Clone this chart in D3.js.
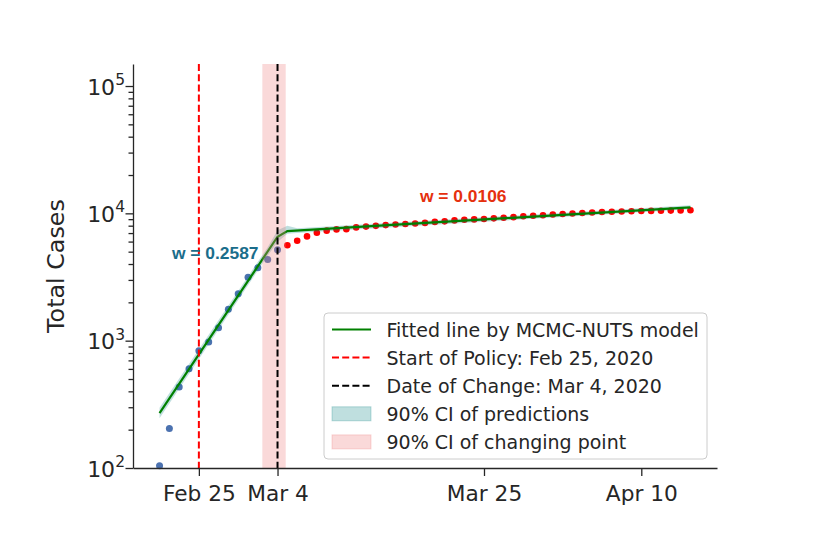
<!DOCTYPE html>
<html>
<head>
<meta charset="utf-8">
<script src="https://cdn.jsdelivr.net/npm/d3@7"></script>
<style>
  body { margin: 0; background: #fff; }
</style>
</head>
<body>
<script>
// observed cases (plotted dates), before and after the change point
var firstDay = new Date(Date.UTC(2020, 1, 21));
var changeDay = new Date(Date.UTC(2020, 2, 5));
var lastDay = new Date(Date.UTC(2020, 3, 16)); // exclusive
var casesBefore = [104, 204, 433, 602, 833, 977, 1261, 1766, 2337, 3150, 3736, 4335, 5186];
var casesAfter = [5621, 6088, 6593, 7041, 7314, 7478, 7513, 7755, 7869, 7979, 8086, 8162,
                  8236, 8320, 8413, 8565, 8652, 8799, 8897, 8961, 9037, 9137, 9241, 9332,
                  9478, 9583, 9661, 9786, 9887, 9976, 10062, 10156, 10237, 10284, 10331,
                  10384, 10423, 10450, 10480, 10512, 10537, 10564];

// fitted line knots and its 90% band
var fitDates = ["2020-02-21", "2020-03-04", "2020-03-05", "2020-04-15"];
var fitValues = [270, 6550, 7260, 11150];
var ciDates = ["2020-02-21", "2020-03-03", "2020-03-04", "2020-03-05", "2020-03-06", "2020-04-15"];
var ciLow = [246, 4650, 5950, 6900, 7000, 10750];
var ciHigh = [297, 5420, 7350, 7980, 7650, 11550];

// change point interval and reference dates
var cpInterval = ["2020-03-02T11:00Z", "2020-03-04T20:00Z"];
var policyDate = "2020-02-25";
var changeDate = "2020-03-04";

var xTickDates = ["2020-02-25", "2020-03-04", "2020-03-25", "2020-04-10"];
var xTickLabels = ["Feb 25", "Mar 4", "Mar 25", "Apr 10"];
var yMajor = [100, 1000, 10000, 100000];
var yExp = ["2", "3", "4", "5"];

var legendLabels = ["Fitted line by MCMC-NUTS model", "Start of Policy: Feb 25, 2020",
                    "Date of Change: Mar 4, 2020", "90% CI of predictions", "90% CI of changing point"];

var width = 830, height = 537;
var margin = {left: 133, right: 717, top: 64, bottom: 468};
var ink = "#262626";
var pad = 2.7 * 864e5;

function day(s) { return new Date(s.length == 10 ? s + "T00:00Z" : s); }

var daysBefore = d3.utcDay.range(firstDay, changeDay);
var daysAfter = d3.utcDay.range(changeDay, lastDay);

var svg = d3.select("body").append("svg")
    .attr("width", width)
    .attr("height", height)
    .style("font-family", "DejaVu Sans");

var x = d3.scaleUtc()
    .domain([new Date(+firstDay - pad), new Date(+d3.utcDay.offset(lastDay, -1) + pad)])
    .range([margin.left, margin.right]);
var y = d3.scaleLog()
    .domain([100, 148900])
    .range([margin.bottom, margin.top]);

var plot = svg.append("g");

// points
plot.selectAll(".before").data(casesBefore).enter().append("circle")
    .attr("cx", (d, i) => x(daysBefore[i]))
    .attr("cy", d => y(d))
    .attr("r", 3.5)
    .attr("fill", "#4c72b0");
plot.selectAll(".after").data(casesAfter).enter().append("circle")
    .attr("cx", (d, i) => x(daysAfter[i]))
    .attr("cy", d => y(d))
    .attr("r", 3.3)
    .attr("fill", "#ff0000");

// prediction band
var band = d3.area()
    .x((d, i) => x(day(ciDates[i])))
    .y0((d, i) => y(ciLow[i]))
    .y1((d, i) => y(ciHigh[i]));
plot.append("path")
    .attr("d", band(ciDates))
    .attr("fill", "teal")
    .attr("fill-opacity", 0.25);

// fitted line
var line = d3.line()
    .x((d, i) => x(day(fitDates[i])))
    .y((d, i) => y(fitValues[i]));
plot.append("path")
    .attr("d", line(fitDates))
    .attr("fill", "none")
    .attr("stroke", "green")
    .attr("stroke-width", 2.2);

// change point interval
plot.append("rect")
    .attr("x", x(day(cpInterval[0])))
    .attr("width", x(day(cpInterval[1])) - x(day(cpInterval[0])))
    .attr("y", margin.top)
    .attr("height", margin.bottom - margin.top)
    .attr("fill", "lightcoral")
    .attr("fill-opacity", 0.3);

// vertical reference lines
plot.append("line")
    .attr("x1", x(day(policyDate))).attr("x2", x(day(policyDate)))
    .attr("y1", margin.top).attr("y2", margin.bottom)
    .attr("stroke", "red").attr("stroke-width", 2)
    .attr("stroke-dasharray", "7,3.2");
plot.append("line")
    .attr("x1", x(day(changeDate))).attr("x2", x(day(changeDate)))
    .attr("y1", margin.top).attr("y2", margin.bottom)
    .attr("stroke", "black").attr("stroke-width", 2)
    .attr("stroke-dasharray", "7,3.2");

// growth rate labels
svg.append("text")
    .attr("x", 172).attr("y", 259)
    .attr("font-family", "Liberation Sans").attr("font-weight", "bold")
    .attr("font-size", "17.4px").attr("fill", "#1a6d8b")
    .text("w = 0.2587");
svg.append("text")
    .attr("x", 420).attr("y", 202)
    .attr("font-family", "Liberation Sans").attr("font-weight", "bold")
    .attr("font-size", "17.4px").attr("fill", "#e5300e")
    .text("w = 0.0106");

// axes
svg.append("g")
    .attr("transform", "translate(" + margin.left + ",0)")
    .call(d3.axisLeft(y).tickValues(yMajor).tickFormat("").tickSize(7.5).tickSizeOuter(0));
var minor = [];
yMajor.slice(0, 3).forEach(m => { for (var k = 2; k < 10; k++) minor.push(m * k); });
svg.append("g")
    .attr("transform", "translate(" + margin.left + ",0)")
    .call(d3.axisLeft(y).tickValues(minor).tickFormat("").tickSize(4.5))
    .select(".domain").remove();

var xAxis = svg.append("g")
    .attr("transform", "translate(0," + margin.bottom + ")")
    .call(d3.axisBottom(x).tickValues(xTickDates.map(day))
        .tickFormat((d, i) => xTickLabels[i]).tickSize(8).tickSizeOuter(0));
xAxis.selectAll("text")
    .attr("font-family", "DejaVu Sans").attr("font-size", "21.7px")
    .attr("fill", ink).attr("dy", null).attr("y", 33);

svg.selectAll(".domain, .tick line").attr("stroke", ink).attr("stroke-width", 1.3);

// y labels with superscripts
yMajor.forEach((v, i) => {
  var t = svg.append("text")
      .attr("x", 125).attr("y", y(v) + 8.5)
      .attr("text-anchor", "end")
      .attr("fill", ink)
      .attr("font-size", "22px");
  t.append("tspan").text("10");
  t.append("tspan").attr("dy", -9.5).attr("font-size", "15.5px").text(yExp[i]);
});

svg.append("text")
    .attr("transform", "translate(64," + ((margin.top + margin.bottom) / 2) + ") rotate(-90)")
    .attr("text-anchor", "middle")
    .attr("fill", ink)
    .attr("font-size", "23.8px")
    .text("Total Cases");

// legend
var lg = svg.append("g").attr("transform", "translate(324,313)");
lg.append("rect")
    .attr("width", 383).attr("height", 146)
    .attr("rx", 4)
    .attr("fill", "white").attr("fill-opacity", 0.8)
    .attr("stroke", "#cccccc").attr("stroke-width", 1);
legendLabels.forEach((label, i) => {
  var cy = 16.5 + i * 28.1;
  if (i < 3) {
    lg.append("line")
      .attr("x1", 8).attr("x2", 47).attr("y1", cy).attr("y2", cy)
      .attr("stroke", ["green", "red", "black"][i])
      .attr("stroke-width", 2)
      .attr("stroke-dasharray", i == 0 ? null : "7,3.2");
  } else {
    lg.append("rect")
      .attr("x", 8).attr("width", 39).attr("y", cy - 7).attr("height", 14)
      .attr("fill", i == 3 ? "teal" : "lightcoral")
      .attr("fill-opacity", i == 3 ? 0.25 : 0.3)
      .attr("stroke", i == 3 ? "teal" : "lightcoral")
      .attr("stroke-opacity", i == 3 ? 0.25 : 0.3);
  }
  lg.append("text")
    .attr("x", 62.5).attr("y", cy + 7)
    .attr("fill", ink)
    .attr("font-size", "19px")
    .text(label);
});
</script>
</body>
</html>
